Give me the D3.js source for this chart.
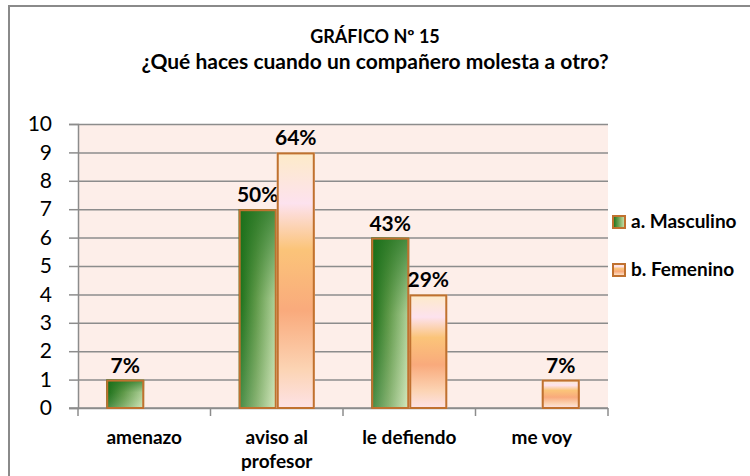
<!DOCTYPE html>
<html>
<head>
<meta charset="utf-8">
<script src="https://cdn.jsdelivr.net/npm/d3@7"></script>
<style>
  body { margin: 0; background: #fff; }
  svg { display: block; font-family: Lato, "Open Sans", sans-serif; }
</style>
</head>
<body>
<svg id="chart" width="750" height="476"></svg>
<script>
// Chart data.
const categories = ['amenazo', 'aviso al profesor', 'le defiendo', 'me voy'];
const seriesNames = ['a. Masculino', 'b. Femenino'];
const masculino = [1, 7, 6, 0];
const femenino = [0, 9, 4, 1];
const masculinoLabels = ['7%', '50%', '43%', ''];
const femeninoLabels = ['', '64%', '29%', '7%'];
const yTicks = [0, 1, 2, 3, 4, 5, 6, 7, 8, 9, 10];

const width = 750;
const height = 476;
const plot = {left: 78, right: 608, top: 124, bottom: 408};

const svg = d3.select('#chart');

// Gradients for the two series.
const defs = svg.append('defs');
const greenH = defs.append('linearGradient').attr('id', 'greenH')
    .attr('x1', 0).attr('y1', 0).attr('x2', 1).attr('y2', 0);
greenH.append('stop').attr('offset', '0%').attr('stop-color', '#176e17');
greenH.append('stop').attr('offset', '45%').attr('stop-color', '#6aa050');
greenH.append('stop').attr('offset', '100%').attr('stop-color', '#cfe6b4');
const greenV = defs.append('linearGradient').attr('id', 'greenV')
    .attr('x1', 0).attr('y1', 0).attr('x2', 0).attr('y2', 1);
greenV.append('stop').attr('offset', '0%').attr('stop-color', '#1a6e1a').attr('stop-opacity', 0.75);
greenV.append('stop').attr('offset', '45%').attr('stop-color', '#1a6e1a').attr('stop-opacity', 0.15);
greenV.append('stop').attr('offset', '100%').attr('stop-color', '#ffffff').attr('stop-opacity', 0.2);
const orangeV = defs.append('linearGradient').attr('id', 'orangeV')
    .attr('x1', 0).attr('y1', 0).attr('x2', 0).attr('y2', 1);
[['0%', '#fdebc8'], ['20%', '#fde2ee'], ['38%', '#fbc479'],
 ['62%', '#f9aa7c'], ['85%', '#fcd4b4'], ['100%', '#fde2e6']]
    .forEach(([o, c]) => orangeV.append('stop').attr('offset', o).attr('stop-color', c));

// Outer chart border (clipped at right/bottom as in the original).
svg.append('rect')
    .attr('x', 9).attr('y', 6)
    .attr('width', width).attr('height', height)
    .attr('fill', 'none').attr('stroke', '#8a8a8a').attr('stroke-width', 2);

// Titles.
svg.append('text').attr('x', 375).attr('y', 43)
    .attr('text-anchor', 'middle').attr('font-weight', 'bold')
    .attr('font-size', 18).text('GRÁFICO Nº 15');
svg.append('text').attr('x', 375).attr('y', 69)
    .attr('text-anchor', 'middle').attr('font-weight', 'bold')
    .attr('font-size', 21).text('¿Qué haces cuando un compañero molesta a otro?');

// Scales.
const x0 = d3.scaleBand().domain(categories)
    .range([plot.left, plot.right]).paddingInner(0.426).paddingOuter(0.213);
const x1 = d3.scaleBand().domain(seriesNames).range([0, x0.bandwidth()]);
const y = d3.scaleLinear().domain([0, 10]).range([plot.bottom, plot.top]);

// Plot background.
svg.append('rect')
    .attr('x', plot.left).attr('y', plot.top)
    .attr('width', plot.right - plot.left).attr('height', plot.bottom - plot.top)
    .attr('fill', '#fdeee9');

// Gridlines + y axis.
const yAxis = svg.append('g')
    .attr('transform', 'translate(' + plot.left + ',0)')
    .call(d3.axisLeft(y).tickValues(yTicks).tickSize(9).tickPadding(17));
yAxis.select('.domain').attr('stroke', '#8c8c8c').attr('stroke-width', 1.5);
yAxis.selectAll('.tick line').attr('stroke', '#8c8c8c').attr('stroke-width', 1.5);
yAxis.selectAll('.tick text')
    .attr('font-size', 21).attr('fill', '#000')
    .attr('font-family', 'Lato, sans-serif');
yAxis.selectAll('.tick').append('line')
    .attr('x1', 0).attr('x2', plot.right - plot.left)
    .attr('stroke', '#8c8c8c').attr('stroke-width', 1.5);

// X axis.
const xAxis = svg.append('g')
    .attr('transform', 'translate(0,' + plot.bottom + ')');
xAxis.append('line')
    .attr('x1', plot.left - 9).attr('x2', plot.right)
    .attr('stroke', '#8c8c8c').attr('stroke-width', 1.5);
const boundaries = categories.map((c) => x0(c) - x0.step() * x0.paddingOuter())
    .concat([plot.right]);
xAxis.selectAll('line.cat-tick').data(boundaries).join('line')
    .attr('class', 'cat-tick')
    .attr('x1', (d) => d).attr('x2', (d) => d)
    .attr('y1', 0).attr('y2', 8)
    .attr('stroke', '#8c8c8c').attr('stroke-width', 1.5);
const catLabels = xAxis.selectAll('text.cat').data(categories).join('text')
    .attr('class', 'cat')
    .attr('x', (d) => x0(d) + x0.bandwidth() / 2)
    .attr('y', 36)
    .attr('text-anchor', 'middle').attr('font-weight', 'bold').attr('font-size', 19);
catLabels.each(function(d) {
  const parts = d === 'aviso al profesor' ? ['aviso al', 'profesor'] : [d];
  d3.select(this).selectAll('tspan').data(parts).join('tspan')
      .attr('x', x0(d) + x0.bandwidth() / 2)
      .attr('dy', (p, i) => (i === 0 ? 0 : 24))
      .text((p) => p);
});

// Bars.
const series = [
  {name: seriesNames[0], values: masculino, labels: masculinoLabels, fill: 'url(#greenH)', overlay: 'url(#greenV)'},
  {name: seriesNames[1], values: femenino, labels: femeninoLabels, fill: 'url(#orangeV)', overlay: null},
];
series.forEach((s) => {
  const g = svg.append('g');
  const rows = categories.map((c, i) => ({c: c, v: s.values[i], label: s.labels[i]}))
      .filter((d) => d.v > 0);
  g.selectAll('rect.bar').data(rows).join('rect')
      .attr('class', 'bar')
      .attr('x', (d) => x0(d.c) + x1(s.name))
      .attr('y', (d) => y(d.v))
      .attr('width', x1.bandwidth())
      .attr('height', (d) => y(0) - y(d.v))
      .attr('fill', s.fill);
  if (s.overlay) {
    g.selectAll('rect.ov').data(rows).join('rect')
        .attr('class', 'ov')
        .attr('x', (d) => x0(d.c) + x1(s.name))
        .attr('y', (d) => y(d.v))
        .attr('width', x1.bandwidth())
        .attr('height', (d) => y(0) - y(d.v))
        .attr('fill', s.overlay);
  }
  g.selectAll('rect.edge').data(rows).join('rect')
      .attr('class', 'edge')
      .attr('x', (d) => x0(d.c) + x1(s.name) + 1)
      .attr('y', (d) => y(d.v) + 1)
      .attr('width', x1.bandwidth() - 2)
      .attr('height', (d) => y(0) - y(d.v) - 1)
      .attr('fill', 'none').attr('stroke', '#c0712f').attr('stroke-width', 2);
  g.selectAll('text.val').data(rows).join('text')
      .attr('class', 'val')
      .attr('x', (d) => x0(d.c) + x1(s.name) + x1.bandwidth() / 2)
      .attr('y', (d) => y(d.v) - 7)
      .attr('text-anchor', 'middle').attr('font-weight', 'bold').attr('font-size', 21)
      .text((d) => d.label);
});

// Legend.
const legend = svg.append('g').attr('transform', 'translate(613,0)');
const legendY = [222, 270];
const legendFill = ['url(#greenH)', 'url(#orangeV)'];
legend.selectAll('rect').data(seriesNames).join('rect')
    .attr('x', 0).attr('y', (d, i) => legendY[i] - 6)
    .attr('width', 12).attr('height', 12)
    .attr('fill', (d, i) => legendFill[i])
    .attr('stroke', '#c0712f').attr('stroke-width', 2);
legend.selectAll('text').data(seriesNames).join('text')
    .attr('x', 18).attr('y', (d, i) => legendY[i] + 6)
    .attr('font-weight', 'bold').attr('font-size', 19)
    .text((d) => d);
</script>
</body>
</html>
